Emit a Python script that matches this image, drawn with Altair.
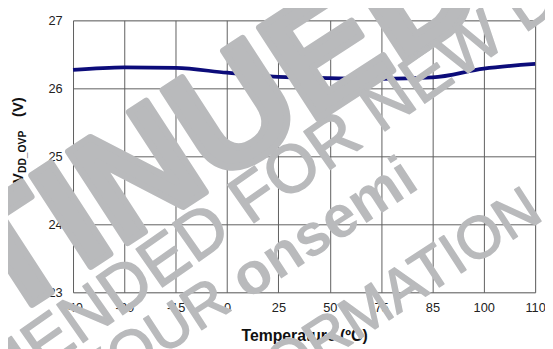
import altair as alt
import pandas as pd

# ---- data ----
temps = ["-40", "-20", "-15", "0", "25", "50", "75", "85", "100", "110"]
vdd_ovp = [26.27, 26.31, 26.30, 26.23, 26.17, 26.15, 26.14, 26.16, 26.29, 26.36]
y_ticks = [23, 24, 25, 26, 27]

df = pd.DataFrame({"temp": temps, "v": vdd_ovp})
one = pd.DataFrame({"k": [0]})

FONT = "Liberation Sans"
WM = "#b9babc"
GRID = "#5e5e5e"

line = alt.Chart(df).mark_line(
    color="#0c0c7a", strokeWidth=3.8, interpolate="monotone"
).encode(
    x=alt.X(
        "temp:O", sort=temps, scale=alt.Scale(padding=0),
        axis=alt.Axis(
            title="Temperature (ºC)", labelAngle=0, grid=True, gridColor=GRID,
            ticks=False, domain=False, labelFont=FONT, labelFontSize=13,
            labelColor="#222", labelPadding=9, titleFont=FONT, titleFontSize=16,
            titleFontWeight="bold", titleColor="#111", titlePadding=14,
        ),
    ),
    y=alt.Y(
        "v:Q", scale=alt.Scale(domain=[23, 27], nice=False, zero=False),
        axis=alt.Axis(
            values=y_ticks, title=None, grid=True, gridColor=GRID, ticks=False,
            domain=False, labelFont=FONT, labelFontSize=13, labelColor="#222",
            labelPadding=11,
        ),
    ),
)


def txt(text, x, y, size, angle, weight="normal", align="center", color=WM,
        sw=0):
    kw = dict(
        text=text, font=FONT, fontSize=size, fontWeight=weight, angle=angle,
        align=align, baseline="alphabetic", color=color,
    )
    if sw:
        kw.update(stroke=color, strokeWidth=sw, strokeJoin="round")
    return alt.Chart(one).mark_text(**kw).encode(x=alt.value(x), y=alt.value(y))


ytitle = [
    txt("V", -51, 165, 15, 270, "bold", "left", "#111"),
    txt("DD_OVP", -48, 155, 10.5, 270, "bold", "left", "#111"),
    txt("(V)", -51, 98, 15, 270, "bold", "left", "#111"),
]

watermark = [
    txt("DISCONTINUED", -84, 316, 160, 327, "bold", sw=7),
    txt("NOT RECOMMENDED FOR NEW DESIGN", 127, 245, 68, 325, sw=1.5),
    txt("onsemi", 265, 227, 60, 327, "bold"),
    txt("PLEASE CONTACT YOUR", 163, 293, 60, 327, "normal", "right", sw=1.5),
    txt("REPRESENTATIVE FOR INFORMATION", 479, 201, 60, 327, "normal", "right",
        sw=1.5),
]

chart = alt.layer(line, *ytitle, *watermark).properties(
    width=469, height=276,
    padding={"left": 66, "top": 10, "right": 10, "bottom": 55},
    autosize=alt.AutoSizeParams(type="none"),
).configure_view(stroke=GRID, strokeWidth=1).configure(background="white")

chart.save("out.html", embed_options={"renderer": "svg", "actions": False})
